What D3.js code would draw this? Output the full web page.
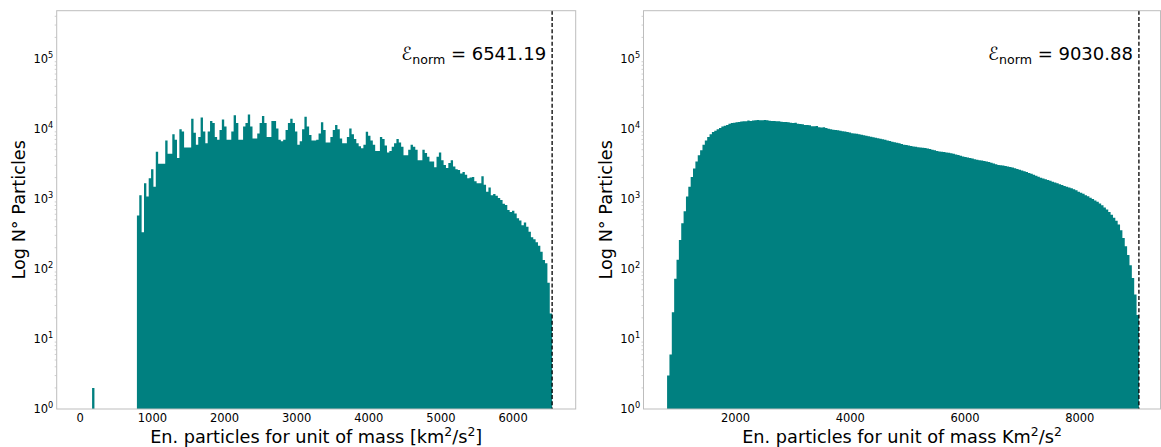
<!DOCTYPE html>
<html><head><meta charset="utf-8">
<script src="https://cdn.jsdelivr.net/npm/d3@7"></script>
<style>body{margin:0;background:#fff} text{font-family:"DejaVu Sans",sans-serif;fill:#000}</style>
</head><body><svg id="c" width="1161" height="447"></svg>
<script>
// ---- DATA ----
// Left histogram: 200 equal bins from 0 to 6541.19 (counts per bin)
const leftBinRange = [0, 6541.19];
const leftCounts = [
0,0,0,0,0,2,0,0,0,0, 0,0,0,0,0,0,0,0,0,0, 0,0,0,0,
575,1122,331,1660,1072,1950,2630,1480,4680,3160,
3160,3160,6760,4365,4365,8320,6920,3800,9770,9120,
5370,5370,5370,13800,8710,5890,7590,14450,9120,6170,
9120,12880,12020,7590,6920,9550,13490,10720,6920,6920,
9120,15490,12020,6920,6920,10720,12020,15850,10720,7240,
7240,8510,12020,15140,12020,7590,7590,12880,12880,10000,
6920,6610,6920,9550,12020,13800,12020,9120,5890,6610,
9770,14790,10720,8130,6760,6760,6920,8510,12300,9550,
6310,6310,7590,9550,11220,9770,7240,6170,6170,7590,
10000,
8320,7080,6170,5620,5250,5890,9040,7940,6760,5890,
4790,4790,7590,7080,5750,4570,4790,5500,6170,7080,
6310,5500,4170,4170,5010,5890,5500,5010,3550,3550,
5010,4470,3980,3390,3390,2820,3980,4570,3550,3020,
2750,3240,3550,2880,2630,2570,2290,2400,2190,1950,
2000,2040,1780,1660,1660,2090,1580,1260,1450,1120,
1170,1100,1020,955,850,813,692,646,676,617,
525,490,417,457,398,339,282,263,240,214,
175,133,120,63,23
];
// Right histogram: 200 equal bins from 806 to 9030.88
const rightBinRange = [806, 9030.88];
const rightCounts = [
3,6,24,72,135,257,447,661,1072,1479,
2042,2692,3388,4169,4898,5888,6761,7586,8318,8913,
9333,9772,10233,10715,10965,11220,11749,12023,12162,12303,
12445,12589,12735,12735,13032,12882,13032,13122,13243,13122,
13122,13243,13122,12972,12823,12823,12706,12706,12560,12417,
12417,12303,12162,12023,12162,11776,11641,11508,11246,11246,
11143,10789,10789,10889,10423,10328,10423,10209,9977,9772,
9661,9550,9441,9290,9162,9078,8913,8790,8610,8511,
8414,8279,8166,8035,7907,7798,7656,7551,7413,7278,
7161,7047,6918,6761,6637,6486,6383,6281,6166,6053,
5888,5834,5754,5649,5559,5495,5433,5370,5333,5272,
5188,5129,5012,4920,4808,4732,4677,4624,4571,4519,
4446,4365,4285,4188,4093,3999,3936,3873,3802,3733,
3648,3597,3548,3508,3451,3388,3327,3251,3177,3105,
3034,3006,2965,2924,2884,2831,2780,2716,2655,2594,
2523,2466,2399,2333,2265,2198,2128,2061,1986,1941,
1897,1854,1799,1746,1698,1660,1614,1567,1521,1479,
1445,1413,1365,1318,1259,1216,1175,1122,1084,1035,
989,944,902,851,804,750,700,646,589,537,
484,427,355,275,209,158,112,74,43,22
];
const leftXTicks = [0,1000,2000,3000,4000,5000,6000];
const rightXTicks = [2000,4000,6000,8000];
const yTickExponents = [0,1,2,3,4,5];
const normValues = [6541.19, 9030.88];
const xLabelParts = [
  ["En. particles for unit of mass [km","2","/s","2","]"],
  ["En. particles for unit of mass Km","2","/s","2",""]
];
const yLabelText = "Log N° Particles";

// ---- DRAW ----
const svg = d3.select("#c");
const yTop = 10.7, yBot = 409;
const y = d3.scaleLog().domain([1, Math.pow(10,5.682)]).range([yBot, yTop]);
const barColor = "#008080";
const spineColor = "#bdbdbd";

function sup(textSel, parts, big, small){
  textSel.append("tspan").text(parts[0]);
  textSel.append("tspan").attr("font-size", small).attr("dy", -big*0.42).text(parts[1]);
  textSel.append("tspan").attr("font-size", big).attr("dy", big*0.42).text(parts[2]);
  textSel.append("tspan").attr("font-size", small).attr("dy", -big*0.42).text(parts[3]);
  if (parts[4]) textSel.append("tspan").attr("font-size", big).attr("dy", big*0.42).text(parts[4]);
}

function panel(cfg){
  const x = d3.scaleLinear().domain(cfg.domain).range(cfg.range);
  const g = svg.append("g");
  const clipId = "clip" + cfg.id;
  svg.append("clipPath").attr("id", clipId).append("rect")
    .attr("x", cfg.range[0]).attr("y", yTop).attr("width", cfg.range[1]-cfg.range[0]).attr("height", yBot-yTop);
  const n = cfg.counts.length;
  const w = (cfg.bins[1]-cfg.bins[0]) / n;
  // bins as step points (bin left edge, count); final point closes the last bin
  const pts = cfg.counts.map((c,i)=>({e: cfg.bins[0]+i*w, c: Math.max(c,1)}));
  pts.push({e: cfg.bins[1], c: 1});
  const area = d3.area().curve(d3.curveStepAfter)
    .x(d=>x(d.e)).y0(yBot).y1(d=>y(d.c));
  g.append("g").attr("clip-path", `url(#${clipId})`).append("path")
    .attr("d", area(pts)).attr("fill", barColor);

  // dashed norm line
  const xn = x(cfg.norm);
  g.append("line").attr("x1", xn).attr("x2", xn).attr("y1", yTop).attr("y2", yBot)
    .attr("stroke", "#000").attr("stroke-width", 1.3).attr("stroke-dasharray", "4,2.2");

  // spines
  const right = Math.min(cfg.range[1], 1160.5);
  g.append("rect").attr("x", cfg.range[0]).attr("y", yTop).attr("width", right-cfg.range[0]).attr("height", yBot-yTop)
    .attr("fill", "none").attr("stroke", spineColor).attr("stroke-width", 1);

  // x ticks
  g.selectAll(".xt").data(cfg.xticks).join("text").attr("class","xt")
    .attr("x", d=>x(d)).attr("y", 421.7).attr("text-anchor","middle").attr("font-size", 11.5)
    .text(d=>d);

  // y minor ticks
  const minors = [];
  yTickExponents.forEach(e=>{ for(let m=2;m<=9;m++){ const v=m*Math.pow(10,e); if (v < y.domain()[1]) minors.push(v);} });
  g.selectAll(".ym").data(minors).join("line").attr("class","ym")
    .attr("x1", cfg.range[0]).attr("x2", cfg.range[0]-2)
    .attr("y1", d=>y(d)).attr("y2", d=>y(d)).attr("stroke", "#c4c4c4").attr("stroke-width", 0.8);

  // y tick labels
  yTickExponents.forEach(e=>{
    const t = g.append("text").attr("x", cfg.range[0]-3.4).attr("y", y(Math.pow(10,e))+4.2)
      .attr("text-anchor","end").attr("font-size", 11.5);
    t.append("tspan").text("10");
    t.append("tspan").attr("font-size", 8.2).attr("dy", -5).text(e);
  });

  // x label
  const xl = g.append("text").attr("x", (cfg.range[0]+right)/2).attr("y", 443)
    .attr("text-anchor","middle").attr("font-size", 17.7);
  sup(xl, cfg.xlabel, 17.7, 12.4);

  // y label
  g.append("text").attr("transform", `translate(${cfg.range[0]-38},${(yTop+yBot)/2}) rotate(-90)`)
    .attr("text-anchor","middle").attr("dominant-baseline","central").attr("font-size", 17.7)
    .text(yLabelText);

  // annotation
  const at = g.append("text").attr("x", xn-6).attr("y", 60).attr("text-anchor","end").attr("font-size", 18);
  at.append("tspan").text("ℰ");
  at.append("tspan").attr("font-size", 12.6).attr("dy", 4).text("norm");
  at.append("tspan").attr("font-size", 18).attr("dy", -4).text(" = " + cfg.norm.toFixed(2));
}

panel({id:"L", domain:[-327, 6868], range:[56.7, 575.7], counts:leftCounts, bins:leftBinRange,
       xticks:leftXTicks, norm:normValues[0], xlabel:xLabelParts[0]});
panel({id:"R", domain:[395, 9442], range:[643.5, 1162.5], counts:rightCounts, bins:rightBinRange,
       xticks:rightXTicks, norm:normValues[1], xlabel:xLabelParts[1]});
</script></body></html>
